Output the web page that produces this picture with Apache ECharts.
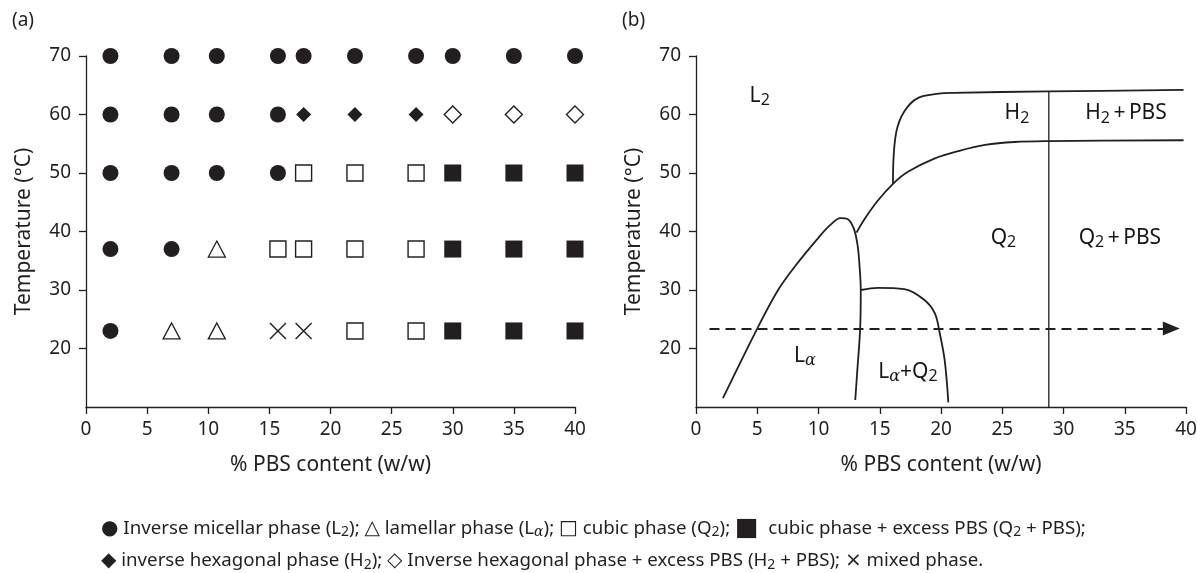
<!DOCTYPE html>
<html>
<head>
<meta charset="utf-8">
<title>PBS phase behaviour</title>
<script src="https://cdn.jsdelivr.net/npm/echarts@6/dist/echarts.min.js"></script>
<style>
  html, body { margin: 0; padding: 0; background: #fff; }
  #main { width: 1197px; height: 573px; }
</style>
</head>
<body>
<div id="main"></div>
<script>
// (a) samples: % PBS (w/w) columns and temperature rows
const pbsContent = [2, 7, 10.7, 15.7, 17.8, 22, 27, 30, 35, 40];
const temps = [70, 60, 50, 37, 23];
// phase found for each temperature row / composition column
const phaseRows = [
  ['L2', 'L2', 'L2', 'L2', 'L2', 'L2', 'L2', 'L2', 'L2', 'L2'],
  ['L2', 'L2', 'L2', 'L2', 'H2', 'H2', 'H2', 'H2P', 'H2P', 'H2P'],
  ['L2', 'L2', 'L2', 'L2', 'Q2', 'Q2', 'Q2', 'Q2P', 'Q2P', 'Q2P'],
  ['L2', 'L2', 'La', 'Q2', 'Q2', 'Q2', 'Q2', 'Q2P', 'Q2P', 'Q2P'],
  ['L2', 'La', 'La', 'X', 'X', 'Q2', 'Q2', 'Q2P', 'Q2P', 'Q2P']
];

// (b) phase boundaries
const lamellarEdge = [[2.2, 11.5], [5.0, 23.4], [6.7, 30], [8.1, 34.1], [9.9, 38.7], [10.9, 41.0],
  [11.8, 42.3], [12.4, 42.1], [12.9, 40.4], [13.2, 37.5], [13.35, 34.1], [13.45, 30],
  [13.4, 23.4], [13.15, 15.7], [13.0, 11.2]];
const cubicTop = [[13.1, 39.8], [13.75, 42.1], [14.85, 45.3], [16.08, 48.15], [17.3, 50.2],
  [19.5, 52.5], [21.5, 53.8], [23.6, 54.8], [26, 55.3], [28.8, 55.45], [39.8, 55.6]];
const hexTop = [[16.08, 48.15], [16.1, 51.3], [16.35, 57.0], [17.0, 60.5], [18.1, 62.8],
  [19.8, 63.55], [21, 63.7], [28.8, 63.95], [39.8, 64.2]];
const mixedEdge = [[13.48, 30], [14.85, 30.35], [17.0, 30.15], [18.65, 28.3], [19.5, 26.0],
  [19.9, 22.6], [20.3, 18], [20.6, 10.8]];
const pbsLimit = [[28.8, 10], [28.8, 64]];
const roomTemp = [[1.1, 23.4], [38.8, 23.4]];

// region names and where they sit
const regionNames = ['L{s|2}', 'H{s|2}', 'H{s|2}\u2009+\u2009PBS', 'Q{s|2}', 'Q{s|2}\u2009+\u2009PBS', 'L{a|α}', 'L{a|α}+Q{s|2}'];
const regionAt = [[5.2, 63.2], [26.2, 60.2], [35.1, 60.2], [25.1, 38.9], [34.6, 38.9], [8.9, 18.7], [17.3, 16.0]];

const xTicks = { min: 0, max: 40, step: 5 };
const yTicks = { min: 10, max: 70, step: 10 };

const ink = '#231f20';
const font = 'Noto Sans';

let chart = echarts.init(document.getElementById('main'), null, { renderer: 'canvas' });

// group the samples by phase
let groups = {};
phaseRows.forEach(function (row, i) {
  row.forEach(function (ph, j) {
    (groups[ph] = groups[ph] || []).push([pbsContent[j], temps[i]]);
  });
});

const markers = {
  L2: { symbol: 'circle', size: 16, color: ink, border: 0 },
  La: { symbol: 'triangle', size: [17, 16], color: '#fff', border: 1.3 },
  Q2: { symbol: 'rect', size: 16, color: '#fff', border: 1.4 },
  Q2P: { symbol: 'rect', size: 17, color: ink, border: 0 },
  H2: { symbol: 'diamond', size: 15, color: ink, border: 0 },
  H2P: { symbol: 'diamond', size: 17, color: '#fff', border: 1.4 },
  X: { symbol: 'path://M0,0L10,10M10,0L0,10', size: 16, color: 'none', border: 1.4 }
};

function xAxisFor(i) {
  return {
    gridIndex: i, type: 'value', min: xTicks.min, max: xTicks.max, interval: xTicks.step,
    name: '% PBS content (w/w)', nameLocation: 'middle', nameGap: 48,
    nameTextStyle: { fontSize: 21, color: ink, fontFamily: font },
    splitLine: { show: false },
    axisLine: { show: true, onZero: false, lineStyle: { color: ink, width: 1.3 } },
    axisTick: { show: true, length: 7, lineStyle: { color: ink, width: 1.3 } },
    axisLabel: { fontSize: 19, color: ink, fontFamily: font, margin: 13 }
  };
}
function yAxisFor(i) {
  return {
    gridIndex: i, type: 'value', min: yTicks.min, max: yTicks.max, interval: yTicks.step,
    name: 'Temperature (°C)', nameLocation: 'middle', nameGap: 51,
    nameTextStyle: { fontSize: 21, color: ink, fontFamily: font },
    splitLine: { show: false },
    axisLine: { show: true, onZero: false, lineStyle: { color: ink, width: 1.3 } },
    axisTick: { show: true, length: 7, lineStyle: { color: ink, width: 1.3 } },
    axisLabel: { fontSize: 19, color: ink, fontFamily: font, margin: 15, showMinLabel: false }
  };
}

let series = [];
Object.keys(markers).forEach(function (ph) {
  let m = markers[ph];
  series.push({
    type: 'scatter', xAxisIndex: 0, yAxisIndex: 0,
    symbol: m.symbol, symbolSize: m.size,
    itemStyle: { color: m.color, borderColor: ink, borderWidth: m.border, opacity: 1 },
    data: groups[ph] || []
  });
});

function boundary(data, width) {
  return {
    type: 'line', xAxisIndex: 1, yAxisIndex: 1, data: data,
    showSymbol: false, symbol: 'none', smooth: 0.35,
    lineStyle: { color: ink, width: width }
  };
}
series.push(boundary(lamellarEdge, 1.8));
series.push(boundary(cubicTop, 1.8));
series.push(boundary(hexTop, 1.8));
series.push(boundary(mixedEdge, 1.8));
let limit = boundary(pbsLimit, 1.3);
limit.smooth = false;
limit.markLine = {
  silent: true, symbol: ['none', 'triangle'], symbolSize: [14, 17],
  label: { show: false },
  lineStyle: { color: ink, width: 1.9, type: [10, 6] },
  itemStyle: { color: ink },
  data: [[{ coord: roomTemp[0] }, { coord: roomTemp[1] }]]
};
series.push(limit);

// region labels
series.push({
  type: 'scatter', xAxisIndex: 1, yAxisIndex: 1, silent: true,
  symbolSize: 1, itemStyle: { color: '#fff' },
  label: {
    show: true, position: 'inside', opacity: 1,
    textBorderWidth: 0, textShadowBlur: 0,
    formatter: function (p) { return regionNames[p.dataIndex]; },
    fontSize: 21, lineHeight: 26, color: '#1a1617', fontFamily: font,
    rich: {
      s: { fontSize: 16, lineHeight: 16, verticalAlign: 'bottom', color: '#1a1617', fontFamily: font },
      a: { fontSize: 16, lineHeight: 16, verticalAlign: 'bottom', color: '#1a1617', fontFamily: 'DejaVu Serif', fontStyle: 'italic' }
    }
  },
  data: regionAt
});

const legendRich = {
  k: { fontSize: 20, lineHeight: 22, fontFamily: 'DejaVu Sans', fill: ink },
  b: { fontSize: 25, lineHeight: 22, fontFamily: 'DejaVu Sans', fill: ink },
  s: { fontSize: 14, lineHeight: 14, verticalAlign: 'bottom', fontFamily: font, fill: ink },
  a: { fontSize: 14, lineHeight: 14, verticalAlign: 'bottom', fontFamily: 'DejaVu Serif', fontStyle: 'italic', fill: ink }
};

let option = {
  animation: false,
  backgroundColor: '#fff',
  grid: [
    { left: 86, top: 56, width: 489, height: 351, outerBoundsMode: 'none' },
    { left: 696, top: 56, width: 490, height: 351, outerBoundsMode: 'none' }
  ],
  xAxis: [xAxisFor(0), xAxisFor(1)],
  yAxis: [yAxisFor(0), yAxisFor(1)],
  graphic: [
    { type: 'text', left: 12, top: 11, style: { text: '(a)', fontSize: 19, fontFamily: font, fill: ink } },
    { type: 'text', left: 622, top: 11, style: { text: '(b)', fontSize: 19, fontFamily: font, fill: ink } },
    {
      type: 'text', left: 101, top: 516,
      style: {
        text: '{k|●} Inverse micellar phase (L{s|2}); {k|△} lamellar phase (L{a|α}); {k|□} cubic phase (Q{s|2}); {b|■}  cubic phase + excess PBS (Q{s|2} + PBS);',
        fontSize: 18.7, lineHeight: 22, fontFamily: font, fill: ink, rich: legendRich
      }
    },
    {
      type: 'text', left: 101, top: 550,
      style: {
        text: '{k|◆} inverse hexagonal phase (H{s|2}); {k|◇} Inverse hexagonal phase + excess PBS (H{s|2} + PBS); {k|×} mixed phase.',
        fontSize: 18.7, lineHeight: 22, fontFamily: font, fill: ink, rich: legendRich
      }
    }
  ],
  series: series
};

chart.setOption(option);
</script>
</body>
</html>
